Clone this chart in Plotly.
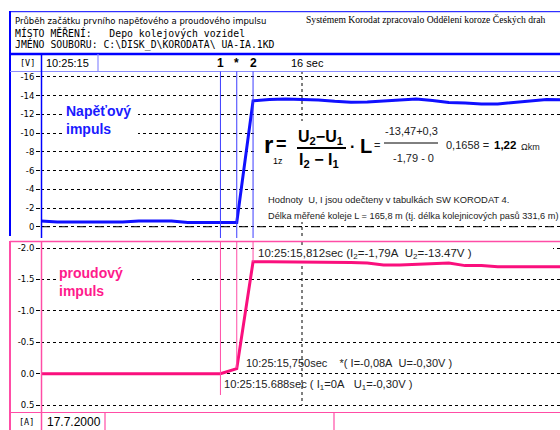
import plotly.graph_objects as go

# ------------------------- data -------------------------
time_s = [15.0, 15.0625, 15.125, 15.1875, 15.25, 15.3125, 15.375, 15.4375, 15.5, 15.5625,
          15.625, 15.6875, 15.75, 15.8125, 15.875, 15.9375, 16.0, 16.0625, 16.125, 16.1875,
          16.25, 16.3125, 16.375, 16.4375, 16.5, 16.5625, 16.625, 16.6875, 16.75, 16.8125,
          16.875, 16.9375, 17.0]
voltage_V = [-0.6, -0.5, -0.5, -0.5, -0.5, -0.5, -0.6, -0.6, -0.6, -0.45,
             -0.45, -0.45, -0.45, -13.45, -13.6, -13.65, -13.6, -13.55, -13.4, -13.3,
             -13.32, -13.43, -13.55, -13.65, -13.5, -13.27, -13.22, -13.12, -13.12, -13.3,
             -13.46, -13.6, -13.55]
current_A = [0.0, 0.0, 0.0, 0.0, 0.0, 0.0, 0.0, 0.0, 0.0, 0.0,
             0.0, 0.0, -0.08, -1.78, -1.78, -1.78, -1.77, -1.77, -1.77, -1.77,
             -1.76, -1.73, -1.73, -1.74, -1.75, -1.76, -1.72, -1.72, -1.70, -1.70,
             -1.70, -1.70, -1.70]
marker_times = [15.6875, 15.75, 15.8125]
marker_labels = ["1", "*", "2"]
sec16_time = 16.0
u_tickvals = [-16, -14, -12, -10, -8, -6, -4, -2, 0]
u_ticktext = ["-16", "-14", "-12", "-10", "-8", "-6", "-4", "-2", "0"]
i_tickvals = [-2.0, -1.5, -1.0, -0.5, 0.0, 0.5]
i_ticktext = ["-2.0", "-1.5", "-1.0", "-0.5", "0.0", "0.5"]

# ------------------------- geometry helpers -------------------------
W, H = 560, 430
X0_PX, X_PX_PER_S = 41, 261.0
X_RANGE = [15.0, 15.0 + (W - X0_PX) / X_PX_PER_S]
U_TOP, U_BOT, U_RANGE = 71, 236, [0.99, -16.64]
I_TOP, I_BOT, I_RANGE = 242, 412, [0.611, -2.096]


def px(x):
    return x / W


def py(y):
    return 1 - y / H


def tx(xp):
    return X_RANGE[0] + (xp - X0_PX) / X_PX_PER_S


def uval(yp):
    return U_RANGE[0] + (U_BOT - yp) / (U_BOT - U_TOP) * (U_RANGE[1] - U_RANGE[0])


def ival(yp):
    return I_RANGE[0] + (I_BOT - yp) / (I_BOT - I_TOP) * (I_RANGE[1] - I_RANGE[0])


BLUE = "#0000ff"
BLUE_CURVE = "#1010ff"
BLUE_LIGHT = "#8c8cff"
BLUE_MARK = "#3c3cff"
PINK = "#ff1a8c"
PINK_CURVE = "#fa0f7d"
PINK_LINE = "#ff4da6"
SANS = "Liberation Sans"

fig = go.Figure()
fig.add_trace(go.Scatter(x=time_s, y=voltage_V, mode="lines", xaxis="x", yaxis="y",
                         line=dict(color=BLUE_CURVE, width=3), hoverinfo="skip", showlegend=False))
fig.add_trace(go.Scatter(x=time_s, y=current_A, mode="lines", xaxis="x2", yaxis="y2",
                         line=dict(color=PINK_CURVE, width=3), hoverinfo="skip", showlegend=False))

shapes = []


def pline(x0, y0, x1, y1, color, width=1, dash="solid"):
    shapes.append(dict(type="line", xref="paper", yref="paper", x0=px(x0), y0=py(y0),
                       x1=px(x1), y1=py(y1), line=dict(color=color, width=width, dash=dash)))


# between-layer items (above grid, below traces)
for xr, yr, top, bot, conv in (("x", "y", U_TOP, U_BOT, uval), ("x2", "y2", I_TOP, 405, ival)):
    shapes.append(dict(type="line", xref=xr, yref=yr, layer="between", x0=sec16_time, x1=sec16_time,
                       y0=conv(top), y1=conv(bot), line=dict(color="black", width=1, dash="dot")))


def wbox(xr, yr, conv, x0, y0, x1, y1):
    shapes.append(dict(type="rect", xref=xr, yref=yr, layer="between", x0=tx(x0), x1=tx(x1),
                       y0=conv(y0), y1=conv(y1), fillcolor="white", line=dict(width=0)))


wbox("x", "y", uval, 65, 102, 138, 150)
wbox("x", "y", uval, 257, 121, 562, 222)
wbox("x2", "y2", ival, 58, 263, 192, 305)
wbox("x2", "y2", ival, 256, 245, 553, 261)
# dashed zero line of the voltage panel
shapes.append(dict(type="line", xref="paper", yref="y", layer="between", x0=px(41), x1=1,
                   y0=0, y1=0, line=dict(color="black", width=1, dash="dash")))

# frame: title box
pline(10, 11.7, 562, 11.7, BLUE, 1)
pline(10, 54, 562, 54, BLUE, 2.5)
pline(10, 11, 10, 236, BLUE, 2)
# header row
pline(10, 71.5, 562, 71.5, BLUE_LIGHT, 1.2)
pline(98, 54, 98, 71.5, BLUE_LIGHT, 1.2)
pline(41.5, 54, 41.5, 238, BLUE, 1.5)
# lower panel frame
pline(10, 241.5, 562, 241.5, PINK_LINE, 1.5)
pline(10, 241, 10, 430, PINK_LINE, 2)
pline(41.5, 241.5, 41.5, 430, PINK_LINE, 1.5)
pline(10, 412.5, 562, 412.5, PINK_LINE, 1.2)
pline(105, 412.5, 105, 430, PINK_LINE, 1.2)
pline(334, 412.5, 334, 430, PINK_LINE, 1.2)

# marker lines
lower_ends = [395, 368, 262]
for t, yend in zip(marker_times, lower_ends):
    shapes.append(dict(type="line", xref="x", yref="paper", x0=t, x1=t, y0=py(71.5), y1=py(238),
                       line=dict(color=BLUE_MARK, width=1)))
    shapes.append(dict(type="line", xref="x", yref="paper", x0=t, x1=t, y0=py(241.5), y1=py(yend),
                       line=dict(color=PINK_LINE, width=1)))

# formula fraction bars
pline(297, 148, 346, 148, "black", 2)
pline(384, 143, 438, 143, "black", 1)

annotations = []


def ann(text, x, y, size, color="black", family=SANS, xanchor="left", xref="paper"):
    annotations.append(dict(text=text, x=(x if xref != "paper" else px(x)), y=py(y), xref=xref,
                            yref="paper", xanchor=xanchor, yanchor="middle", showarrow=False,
                            align="left",
                            font=dict(size=size, color=color, family=family), borderpad=0))


# title box texts
ann("Průběh začátku prvního napěťového a proudového impulsu", 14, 21, 8.5, family="DejaVu Sans")
ann("MÍSTO MĚŘENÍ:\u00a0\u00a0\u00a0Depo kolejových vozidel", 14, 33, 9.8, family="DejaVu Sans Mono")
ann("JMÉNO SOUBORU:\u00a0C:\\DISK_D\\KORODATA\\ UA-IA.1KD", 14, 44, 9.8, family="DejaVu Sans Mono")
ann("Systémem Korodat zpracovalo Oddělení koroze Českých drah", 305, 20, 9.6, family="Liberation Serif")

# header row
ann("[V]", 19, 63, 8.5, family="DejaVu Sans Mono")
ann("10:25:15", 45, 63, 11)
for t, lab in zip(marker_times, marker_labels):
    ann("<b>" + lab + "</b>", t, 63, 12, xanchor="center", xref="x")
ann("16 sec", 290, 63, 11)

# footer row
ann("[A]", 18, 422, 8.5, family="DejaVu Sans Mono")
ann("17.7.2000", 46, 422, 12)

# panel labels
ann("<b>Napěťový<br>impuls</b>", 65, 120, 14, color="#1a1aff")
ann("<b>proudový<br>impuls</b>", 58, 282, 14, color=PINK)

# formula
ann("<b>r</b>", 263, 144, 24)
ann("<b>=</b>", 275, 144, 18)
ann("1z", 272, 161, 9)
ann("<b>U<sub>2</sub>\u2212U<sub>1</sub></b>", 297, 137, 16)
ann("<b>I<sub>2</sub> \u2212 I<sub>1</sub></b>", 298, 160, 16)
ann("<b>\u00b7</b>", 349, 146, 16)
ann("<b>L</b>", 359, 146, 20)
ann("=", 373, 145, 11, color="#222")
ann("-13,47+0,3", 384, 131, 11, color="#222")
ann("-1,79 - 0", 392, 158, 11, color="#222")
ann("0,1658\u00a0=", 445, 145, 11, color="#222")
ann("<b>1,22</b>", 493, 145, 11.5)
ann("\u03a9km", 520, 147, 9, color="#222")
ann("Hodnoty\u00a0\u00a0U, I jsou odečteny v tabulkách SW KORODAT 4.", 267, 200, 9.4, color="#222")
ann("Délka měřené koleje L = 165,8 m (tj. délka kolejnicových pasů 331,6 m)", 267, 216, 9.2, color="#222")

# current panel labels
ann("10:25:15,812sec (I<sub>2</sub>=-1,79A\u00a0\u00a0U<sub>2</sub>=-13.47V )", 257, 254, 11.5, color="#222")
ann("10:25:15,750sec\u00a0\u00a0\u00a0\u00a0*( I=-0,08A\u00a0\u00a0U=-0,30V )", 245, 363, 11, color="#222")
ann("10:25:15.688sec ( I<sub>1</sub>=0A\u00a0\u00a0\u00a0U<sub>1</sub>=-0,30V )", 223, 385, 11.2, color="#222")

xcommon = dict(range=X_RANGE, domain=[px(X0_PX), 1], showgrid=False, zeroline=False,
               showticklabels=False, showline=False, ticks="", fixedrange=True)
ycommon = dict(showgrid=True, gridcolor="black", griddash="dot", gridwidth=1, zeroline=False,
               ticks="outside", ticklen=4, tickwidth=1, tickcolor="black", showline=False,
               tickfont=dict(family="DejaVu Sans", size=8.5, color="black"), automargin=False)

fig.update_layout(
    width=W, height=H, margin=dict(l=0, r=0, t=0, b=0),
    paper_bgcolor="white", plot_bgcolor="white",
    font=dict(family=SANS, color="black"),
    xaxis=dict(anchor="y", **xcommon),
    xaxis2=dict(anchor="y2", **xcommon),
    yaxis=dict(anchor="x", domain=[py(U_BOT), py(U_TOP)], range=U_RANGE,
               tickvals=u_tickvals, ticktext=u_ticktext, **ycommon),
    yaxis2=dict(anchor="x2", domain=[py(I_BOT), py(I_TOP)], range=I_RANGE,
                tickvals=i_tickvals, ticktext=i_ticktext, **ycommon),
    shapes=shapes, annotations=annotations, showlegend=False,
)

fig.write_html("out.html", config={"displayModeBar": False},
               post_script="document.body.style.margin='0px';document.body.style.overflow='hidden';")
